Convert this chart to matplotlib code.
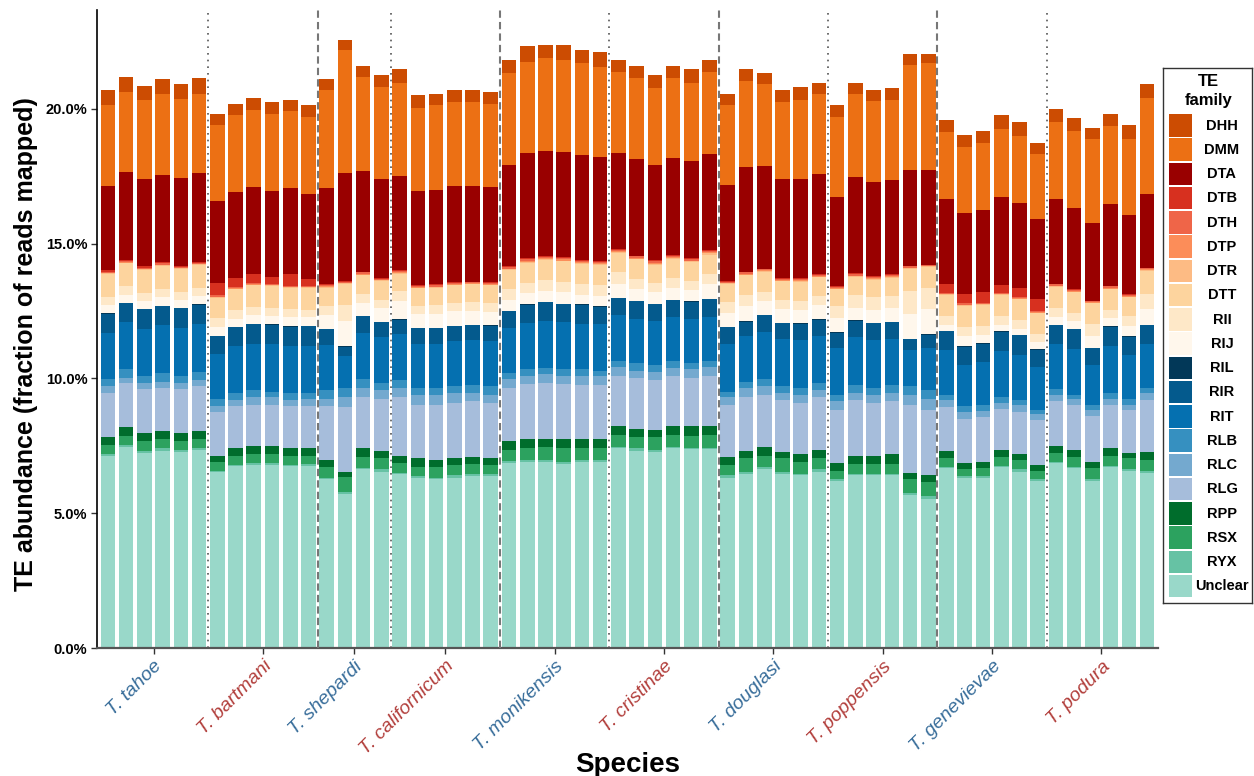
import numpy as np
import matplotlib
matplotlib.use('Agg')
import matplotlib.pyplot as plt
from matplotlib.patches import Rectangle
from matplotlib.ticker import FuncFormatter

plt.rcParams['font.family'] = ['Liberation Sans', 'DejaVu Sans']

# species and number of samples (bars) per species
species = ['T. tahoe', 'T. bartmani', 'T. shepardi', 'T. californicum', 'T. monikensis',
           'T. cristinae', 'T. douglasi', 'T. poppensis', 'T. genevievae', 'T. podura']
n_samples = [6, 6, 4, 6, 6, 6, 6, 6, 6, 6]

# cumulative upper edge (in %) of each TE family, bar by bar
unclear_top = [7.13, 7.47, 7.25, 7.32, 7.28, 7.35,
               6.51, 6.74, 6.79, 6.79, 6.74, 6.74,
               6.25, 5.71, 6.62, 6.54,
               6.44, 6.29, 6.25, 6.32, 6.37, 6.37,
               6.87, 6.88, 6.88, 6.84, 6.88, 6.88,
               7.40, 7.32, 7.28, 7.40, 7.37, 7.37,
               6.32, 6.44, 6.65, 6.47, 6.40, 6.54,
               6.18, 6.40, 6.40, 6.40, 5.66, 5.54,
               6.66, 6.32, 6.32, 6.71, 6.54, 6.21,
               6.85, 6.66, 6.21, 6.71, 6.56, 6.50]
ryx_top = [7.21, 7.54, 7.32, 7.40, 7.35, 7.43,
           6.56, 6.79, 6.87, 6.87, 6.79, 6.81,
           6.32, 5.78, 6.69, 6.62,
           6.50, 6.37, 6.32, 6.40, 6.44, 6.44,
           6.94, 6.96, 6.96, 6.91, 6.96, 6.96,
           7.47, 7.40, 7.35, 7.47, 7.43, 7.43,
           6.40, 6.51, 6.72, 6.54, 6.47, 6.62,
           6.25, 6.47, 6.47, 6.47, 5.74, 5.62,
           6.72, 6.37, 6.37, 6.76, 6.62, 6.26,
           6.91, 6.72, 6.28, 6.76, 6.62, 6.56]
rsx_top = [7.54, 7.88, 7.69, 7.74, 7.69, 7.76,
           6.91, 7.13, 7.21, 7.21, 7.13, 7.13,
           6.72, 6.35, 7.10, 7.03,
           6.87, 6.72, 6.72, 6.79, 6.84, 6.79,
           7.35, 7.43, 7.47, 7.40, 7.43, 7.43,
           7.91, 7.84, 7.81, 7.91, 7.88, 7.91,
           6.79, 7.03, 7.13, 7.03, 6.91, 7.06,
           6.57, 6.84, 6.84, 6.84, 6.28, 6.16,
           7.06, 6.65, 6.69, 7.10, 6.96, 6.57,
           7.25, 7.10, 6.69, 7.13, 7.03, 6.99]
rpp_top = [7.81, 8.18, 7.96, 8.03, 7.96, 8.06,
           7.13, 7.43, 7.50, 7.50, 7.43, 7.43,
           6.99, 6.54, 7.40, 7.32,
           7.13, 7.03, 6.99, 7.06, 7.10, 7.06,
           7.66, 7.74, 7.76, 7.74, 7.76, 7.76,
           8.22, 8.13, 8.10, 8.22, 8.22, 8.22,
           7.10, 7.32, 7.47, 7.28, 7.21, 7.35,
           6.87, 7.13, 7.13, 7.18, 6.50, 6.43,
           7.32, 6.87, 6.91, 7.35, 7.21, 6.79,
           7.50, 7.35, 6.91, 7.40, 7.25, 7.28]
rlg_top = [9.44, 9.81, 9.59, 9.66, 9.59, 9.71,
           8.75, 8.97, 9.03, 9.03, 8.97, 8.97,
           8.96, 8.93, 9.32, 9.22,
           9.29, 9.03, 9.03, 9.10, 9.15, 9.10,
           9.63, 9.78, 9.81, 9.78, 9.74, 9.74,
           10.10, 10.00, 9.93, 10.07, 10.00, 10.07,
           9.00, 9.32, 9.40, 9.18, 9.10, 9.29,
           8.84, 9.18, 9.10, 9.15, 9.00, 8.84,
           8.93, 8.51, 8.56, 8.88, 8.74, 8.44,
           9.15, 9.00, 8.59, 9.03, 8.81, 9.18]
rlc_top = [9.71, 10.03, 9.81, 9.88, 9.81, 9.93,
           8.97, 9.19, 9.29, 9.29, 9.19, 9.22,
           9.25, 9.29, 9.66, 9.56,
           9.63, 9.37, 9.37, 9.44, 9.44, 9.40,
           9.96, 10.07, 10.15, 10.10, 10.07, 10.07,
           10.41, 10.29, 10.22, 10.37, 10.34, 10.41,
           9.29, 9.66, 9.71, 9.47, 9.40, 9.56,
           9.15, 9.47, 9.40, 9.47, 9.37, 9.22,
           9.18, 8.74, 8.78, 9.10, 9.00, 8.66,
           9.40, 9.22, 8.81, 9.25, 9.03, 9.44]
rlb_top = [9.96, 10.34, 10.10, 10.19, 10.10, 10.22,
           9.22, 9.44, 9.56, 9.51, 9.44, 9.47,
           9.56, 9.63, 9.96, 9.81,
           9.93, 9.63, 9.63, 9.71, 9.74, 9.71,
           10.19, 10.34, 10.37, 10.34, 10.34, 10.29,
           10.66, 10.56, 10.49, 10.63, 10.56, 10.66,
           9.51, 9.88, 9.96, 9.71, 9.63, 9.81,
           9.40, 9.74, 9.66, 9.74, 9.71, 9.56,
           9.38, 8.96, 9.00, 9.32, 9.18, 8.84,
           9.59, 9.37, 9.00, 9.44, 9.22, 9.66]
rit_top = [11.68, 12.09, 11.82, 11.97, 11.85, 12.00,
           10.90, 11.21, 11.29, 11.26, 11.21, 11.21,
           11.22, 10.82, 11.68, 11.53,
           11.63, 11.29, 11.29, 11.37, 11.41, 11.37,
           11.85, 12.04, 12.12, 12.09, 12.00, 12.00,
           12.34, 12.19, 12.12, 12.26, 12.19, 12.26,
           11.29, 11.56, 11.71, 11.46, 11.41, 11.56,
           11.12, 11.53, 11.41, 11.46, 11.04, 11.12,
           11.04, 10.51, 10.59, 11.00, 10.85, 10.41,
           11.26, 11.07, 10.51, 11.19, 10.85, 11.29]
rir_top = [12.38, 12.79, 12.56, 12.68, 12.60, 12.72,
           11.56, 11.90, 12.00, 11.97, 11.90, 11.93,
           11.82, 11.15, 12.31, 12.09,
           12.15, 11.85, 11.85, 11.93, 11.97, 11.93,
           12.49, 12.72, 12.82, 12.75, 12.72, 12.65,
           12.97, 12.87, 12.75, 12.90, 12.82, 12.94,
           11.90, 12.09, 12.34, 12.04, 12.00, 12.16,
           11.68, 12.12, 12.04, 12.09, 11.46, 11.60,
           11.75, 11.16, 11.29, 11.72, 11.60, 11.06,
           11.97, 11.82, 11.12, 11.91, 11.53, 11.97]
ril_top = [12.43, 12.81, 12.59, 12.69, 12.62, 12.75,
           11.57, 11.91, 12.01, 12.01, 11.94, 11.94,
           11.84, 11.19, 12.32, 12.10,
           12.19, 11.87, 11.87, 11.94, 11.99, 11.96,
           12.50, 12.74, 12.84, 12.76, 12.74, 12.69,
           12.99, 12.88, 12.76, 12.91, 12.87, 12.96,
           11.91, 12.12, 12.35, 12.06, 12.04, 12.19,
           11.71, 12.16, 12.06, 12.10, 11.47, 11.65,
           11.76, 11.21, 11.31, 11.76, 11.62, 11.10,
           11.99, 11.84, 11.13, 11.94, 11.56, 11.99]
rij_top = [12.72, 13.09, 12.87, 13.01, 12.90, 13.04,
           11.91, 12.21, 12.35, 12.31, 12.26, 12.26,
           12.34, 12.12, 12.79, 12.60,
           12.87, 12.38, 12.38, 12.49, 12.49, 12.46,
           12.90, 13.16, 13.24, 13.19, 13.09, 13.04,
           13.50, 13.31, 13.19, 13.35, 13.26, 13.50,
           12.41, 12.68, 12.87, 12.56, 12.53, 12.72,
           12.24, 12.60, 12.53, 12.60, 12.38, 12.56,
           11.97, 11.57, 11.60, 11.97, 11.82, 11.34,
           12.26, 12.12, 11.56, 12.24, 11.93, 12.56]
rii_top = [13.01, 13.43, 13.16, 13.31, 13.19, 13.35,
           12.24, 12.53, 12.63, 12.60, 12.56, 12.53,
           12.68, 12.72, 13.12, 12.90,
           13.24, 12.68, 12.72, 12.79, 12.82, 12.79,
           13.31, 13.53, 13.65, 13.57, 13.50, 13.46,
           13.94, 13.68, 13.53, 13.72, 13.60, 13.87,
           12.82, 13.09, 13.19, 12.90, 12.87, 13.04,
           12.68, 13.09, 13.01, 13.04, 13.24, 13.35,
           12.31, 11.91, 11.94, 12.31, 12.16, 11.63,
           12.60, 12.41, 12.00, 12.53, 12.31, 13.12]
dtt_top = [13.87, 14.26, 14.01, 14.16, 14.06, 14.21,
           12.99, 13.31, 13.46, 13.43, 13.35, 13.35,
           13.35, 13.51, 13.82, 13.60,
           13.87, 13.34, 13.35, 13.46, 13.49, 13.46,
           14.01, 14.29, 14.38, 14.34, 14.25, 14.21,
           14.63, 14.41, 14.21, 14.44, 14.31, 14.59,
           13.50, 13.82, 13.94, 13.60, 13.57, 13.75,
           13.31, 13.75, 13.65, 13.72, 14.06, 14.13,
           13.09, 12.69, 12.72, 13.09, 12.94, 12.41,
           13.38, 13.19, 12.79, 13.31, 13.01, 13.99]
# thin families, given as segment heights (%)
dtr_height = [0.02, 0.03, 0.03, 0.03, 0.02, 0.02,
              0.02, 0.02, 0.02, 0.02, 0.02, 0.02,
              0.03, 0.02, 0.03, 0.03,
              0.03, 0.02, 0.03, 0.02, 0.02, 0.02,
              0.03, 0.03, 0.03, 0.03, 0.03, 0.03,
              0.04, 0.03, 0.03, 0.03, 0.03, 0.04,
              0.02, 0.03, 0.03, 0.02, 0.03, 0.02,
              0.02, 0.03, 0.03, 0.03, 0.02, 0.02,
              0.02, 0.02, 0.02, 0.02, 0.02, 0.02,
              0.03, 0.02, 0.02, 0.02, 0.02, 0.03]
dtp_height = [0.02, 0.03, 0.02, 0.03, 0.02, 0.02,
              0.02, 0.02, 0.02, 0.02, 0.02, 0.02,
              0.03, 0.02, 0.03, 0.02,
              0.03, 0.02, 0.02, 0.02, 0.02, 0.03,
              0.03, 0.04, 0.04, 0.04, 0.03, 0.03,
              0.04, 0.03, 0.04, 0.03, 0.03, 0.04,
              0.02, 0.03, 0.03, 0.03, 0.03, 0.03,
              0.02, 0.03, 0.03, 0.03, 0.02, 0.02,
              0.02, 0.02, 0.02, 0.02, 0.02, 0.02,
              0.03, 0.03, 0.02, 0.03, 0.02, 0.02]
dth_height = [0.04, 0.05, 0.04, 0.05, 0.04, 0.04,
              0.05, 0.04, 0.05, 0.04, 0.05, 0.05,
              0.05, 0.04, 0.05, 0.04,
              0.05, 0.04, 0.05, 0.04, 0.05, 0.04,
              0.05, 0.06, 0.06, 0.06, 0.05, 0.05,
              0.06, 0.05, 0.06, 0.05, 0.05, 0.06,
              0.04, 0.05, 0.05, 0.04, 0.05, 0.05,
              0.04, 0.05, 0.05, 0.05, 0.05, 0.05,
              0.05, 0.05, 0.05, 0.05, 0.05, 0.06,
              0.05, 0.05, 0.04, 0.05, 0.05, 0.04]
dtb_top = [14.00, 14.38, 14.15, 14.31, 14.16, 14.31,
           13.53, 13.72, 13.87, 13.75, 13.87, 13.68,
           13.50, 13.60, 13.94, 13.72,
           14.01, 13.46, 13.50, 13.57, 13.59, 13.59,
           14.16, 14.46, 14.53, 14.50, 14.38, 14.35,
           14.81, 14.53, 14.38, 14.57, 14.46, 14.76,
           13.60, 13.94, 14.06, 13.72, 13.72, 13.87,
           13.43, 13.90, 13.79, 13.87, 14.15, 14.21,
           13.50, 13.12, 13.19, 13.46, 13.35, 12.94,
           13.50, 13.31, 12.87, 13.43, 13.12, 14.09]
dta_top = [17.13, 17.66, 17.40, 17.54, 17.44, 17.62,
           16.59, 16.90, 17.10, 16.96, 17.06, 16.84,
           17.06, 17.62, 17.69, 17.40,
           17.51, 16.96, 16.99, 17.13, 17.13, 17.10,
           17.93, 18.37, 18.44, 18.40, 18.29, 18.22,
           18.37, 18.15, 17.93, 18.18, 18.07, 18.32,
           17.18, 17.85, 17.88, 17.40, 17.40, 17.59,
           16.74, 17.47, 17.29, 17.37, 17.74, 17.74,
           16.66, 16.13, 16.25, 16.74, 16.50, 15.91,
           16.66, 16.32, 15.76, 16.47, 16.06, 16.84]
dmm_top = [20.12, 20.63, 20.34, 20.53, 20.37, 20.56,
           19.41, 19.75, 19.97, 19.82, 19.90, 19.71,
           20.68, 22.16, 21.16, 20.82,
           20.97, 20.04, 20.12, 20.26, 20.26, 20.19,
           21.32, 21.75, 21.87, 21.82, 21.68, 21.53,
           21.35, 21.12, 20.78, 21.12, 20.97, 21.35,
           20.15, 21.01, 20.90, 20.26, 20.34, 20.53,
           19.71, 20.53, 20.29, 20.34, 21.63, 21.68,
           19.12, 18.59, 18.74, 19.26, 19.00, 18.32,
           19.49, 19.19, 18.88, 19.34, 18.88, 20.41]
dhh_top = [20.68, 21.19, 20.85, 21.09, 20.93, 21.12,
           19.82, 20.19, 20.41, 20.26, 20.34, 20.12,
           21.09, 22.53, 21.60, 21.26,
           21.46, 20.49, 20.56, 20.71, 20.71, 20.63,
           21.82, 22.31, 22.38, 22.38, 22.19, 22.09,
           21.82, 21.60, 21.26, 21.60, 21.46, 21.82,
           20.56, 21.46, 21.34, 20.71, 20.82, 20.97,
           20.15, 20.97, 20.71, 20.78, 22.01, 22.01,
           19.59, 19.03, 19.19, 19.75, 19.49, 18.74,
           20.00, 19.66, 19.29, 19.82, 19.41, 20.93]

# stacking order bottom -> top: (family, values, kind)
layers = [('Unclear', unclear_top, 'top'), ('RYX', ryx_top, 'top'), ('RSX', rsx_top, 'top'),
          ('RPP', rpp_top, 'top'), ('RLG', rlg_top, 'top'), ('RLC', rlc_top, 'top'),
          ('RLB', rlb_top, 'top'), ('RIT', rit_top, 'top'), ('RIR', rir_top, 'top'),
          ('RIL', ril_top, 'top'), ('RIJ', rij_top, 'top'), ('RII', rii_top, 'top'),
          ('DTT', dtt_top, 'top'), ('DTR', dtr_height, 'height'), ('DTP', dtp_height, 'height'),
          ('DTH', dth_height, 'height'), ('DTB', dtb_top, 'top'), ('DTA', dta_top, 'top'),
          ('DMM', dmm_top, 'top'), ('DHH', dhh_top, 'top')]

colors = {'DHH': '#CC4C02', 'DMM': '#EC7014', 'DTA': '#990000', 'DTB': '#D7301F',
          'DTH': '#EF6548', 'DTP': '#FC8D59', 'DTR': '#FDBB84', 'DTT': '#FDD49E',
          'RII': '#FEE8C8', 'RIJ': '#FFF7EC', 'RIL': '#023858', 'RIR': '#045A8D',
          'RIT': '#0570B0', 'RLB': '#3690C0', 'RLC': '#74A9CF', 'RLG': '#A6BDDB',
          'RPP': '#006D2C', 'RSX': '#2CA25F', 'RYX': '#66C2A4', 'Unclear': '#99D8C9'}
legend_order = ['DHH', 'DMM', 'DTA', 'DTB', 'DTH', 'DTP', 'DTR', 'DTT', 'RII', 'RIJ',
                'RIL', 'RIR', 'RIT', 'RLB', 'RLC', 'RLG', 'RPP', 'RSX', 'RYX', 'Unclear']

W, H = 1254, 776
fig = plt.figure(figsize=(W / 100, H / 100), dpi=100)
ax = fig.add_axes([97 / W, 1 - 648 / H, (1158 - 97) / W, (648 - 10) / H])

n_bars = sum(n_samples)
x = np.arange(n_bars)
bottom = np.zeros(n_bars)
for fam, vals, kind in layers:
    vals = np.array(vals)
    h = vals if kind == 'height' else np.clip(vals - bottom, 0, None)
    ax.bar(x, h, bottom=bottom, width=0.8, color=colors[fam], linewidth=0, zorder=2)
    bottom = bottom + h

# species separators, alternating dotted / dashed
edges = np.cumsum(n_samples)[:-1] - 0.5
for i, e in enumerate(edges):
    if i % 2 == 0:
        ax.axvline(e, color='#555555', lw=1.2, linestyle=(0, (1, 3)), zorder=3)
    else:
        ax.axvline(e, color='#777777', lw=1.5, linestyle=(0, (3.5, 2)), zorder=3)

ax.set_xlim(-0.6, n_bars - 0.4)
ax.set_ylim(0, 23.66)
ax.set_yticks([0, 5, 10, 15, 20])
ax.yaxis.set_major_formatter(FuncFormatter(lambda v, _: f'{v:.1f}%'))
for lbl in ax.get_yticklabels():
    lbl.set_fontweight('bold')
    lbl.set_fontsize(10.5)
    lbl.set_color('black')

starts = np.concatenate([[0], np.cumsum(n_samples)[:-1]])
centers = starts + (np.array(n_samples) - 1) / 2
ax.set_xticks(centers)
ax.set_xticklabels(species, rotation=45, ha='right', va='top', rotation_mode='anchor',
                   fontstyle='italic', fontsize=14)
for i, lbl in enumerate(ax.get_xticklabels()):
    lbl.set_color('#386D9A' if i % 2 == 0 else '#B23F3C')

ax.tick_params(axis='both', length=4, width=1, color='#333333', pad=3)
for s in ['top', 'right']:
    ax.spines[s].set_visible(False)
ax.spines['left'].set_color('black')
ax.spines['left'].set_linewidth(1.2)
ax.spines['bottom'].set_color('#555555')
ax.spines['bottom'].set_linewidth(1.6)

ax.set_ylabel('TE abundance (fraction of reads mapped)', fontsize=18, fontweight='bold')
ax.yaxis.set_label_coords(-0.056, 0.476)
ax.set_xlabel('Species', fontsize=20, fontweight='bold')
ax.xaxis.set_label_coords(0.5, -0.163)

# legend box drawn in its own axes (pixel-like units)
lx0, ly0, lx1, ly1 = 1163, 68, 1252, 603
lax = fig.add_axes([lx0 / W, 1 - ly1 / H, (lx1 - lx0) / W, (ly1 - ly0) / H])
lax.set_xlim(0, lx1 - lx0)
lax.set_ylim(ly1 - ly0, 0)
lax.set_xticks([])
lax.set_yticks([])
for s in lax.spines.values():
    s.set_color('#333333')
    s.set_linewidth(1.0)
lax.text(45, 13, 'TE', ha='center', va='center', fontsize=12, fontweight='bold')
lax.text(46, 32, 'family', ha='center', va='center', fontsize=12, fontweight='bold')
for i, fam in enumerate(legend_order):
    y0 = 46 + i * 24.26
    lax.add_patch(Rectangle((6, y0), 23, 22.5, facecolor=colors[fam], edgecolor='none'))
    lax.text(59, y0 + 11.5, fam, ha='center', va='center', fontsize=10.5, fontweight='bold')

fig.savefig('out.png', dpi=100)
